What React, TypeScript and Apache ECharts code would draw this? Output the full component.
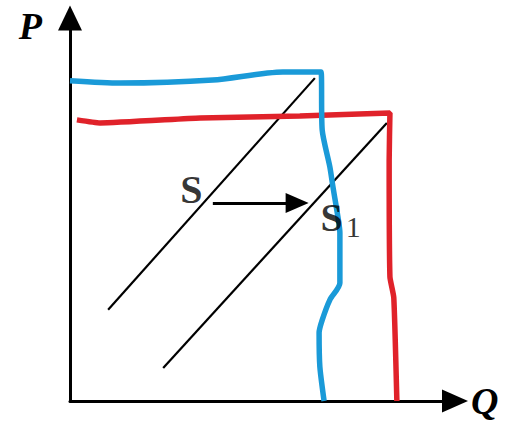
import React, { useEffect, useRef } from "react";
import * as echarts from "echarts";

// Blue curve (Q, P)
const blueCurve: [number, number][] = [
  [0, 83.6], [13.0, 83.0], [37.1, 83.8], [55.3, 85.9], [65.2, 85.9],
  [65.5, 70.8], [67.5, 61.1], [68.3, 55.9], [69.6, 48.0], [70.1, 43.9],
  [70.1, 30.8], [67.5, 26.4], [65.5, 21.1], [64.7, 17.8], [64.9, 8.9], [66.0, 0],
];
// Red curve (Q, P)
const redCurve: [number, number][] = [
  [1.8, 73.4], [7.8, 72.6], [33.8, 73.9], [59.7, 74.4], [83.1, 75.2],
  [82.9, 62.9], [83.1, 32.4], [84.1, 27.0], [84.9, 0],
];
// Supply curves
const supplyS: [number, number][] = [[9.9, 23.8], [63.6, 84.3]];
const supplyS1: [number, number][] = [[24.2, 8.6], [82.3, 72.6]];
// Shift arrow
const shiftArrow: [number, number][] = [[37.1, 51.7], [59.0, 51.7]];
// Curve labels
const labelS: [number, number] = [31.5, 55.3];
const labelS1: [number, number] = [70.3, 48.0];

const serif = "'Liberation Serif', 'DejaVu Serif', serif";

export default function App() {
  const ref = useRef<HTMLDivElement>(null);
  useEffect(() => {
    if (!ref.current) return;
    const chart = echarts.init(ref.current, undefined, { renderer: "svg" });
    chart.setOption({
      animation: false,
      backgroundColor: "#ffffff",
      grid: { left: 70, right: 50, top: 18, bottom: 21 },
      xAxis: {
        type: "value",
        min: 0,
        max: 100,
        name: "Q",
        nameLocation: "end",
        nameGap: 16,
        nameTextStyle: {
          fontFamily: serif,
          fontSize: 38,
          fontWeight: "bold",
          fontStyle: "italic",
          color: "#000",
          verticalAlign: "middle",
          padding: [0, 0, 6, 0],
        },
        axisLine: {
          show: true,
          symbol: ["none", "triangle"],
          symbolSize: [23, 26],
          lineStyle: { color: "#000", width: 3 },
        },
        axisTick: { show: false },
        axisLabel: { show: false },
        splitLine: { show: false },
      },
      yAxis: {
        type: "value",
        min: 0,
        max: 100,
        name: "P",
        nameLocation: "end",
        nameGap: -8,
        nameTextStyle: {
          fontFamily: serif,
          fontSize: 38,
          fontWeight: "bold",
          fontStyle: "italic",
          color: "#000",
          align: "right",
          verticalAlign: "middle",
          padding: [0, 28, 0, 0],
        },
        axisLine: {
          show: true,
          symbol: ["none", "triangle"],
          symbolSize: [24, 25],
          lineStyle: { color: "#000", width: 3 },
        },
        axisTick: { show: false },
        axisLabel: { show: false },
        splitLine: { show: false },
      },
      series: [
        {
          type: "line",
          data: supplyS,
          showSymbol: false,
          lineStyle: { color: "#000", width: 2.2 },
          z: 2,
          markLine: {
            silent: true,
            symbol: ["none", "triangle"],
            symbolSize: [20, 23],
            label: { show: false },
            lineStyle: { color: "#000", width: 3, type: "solid" },
            data: [[{ coord: shiftArrow[0] }, { coord: shiftArrow[1] }]],
          },
        },
        {
          type: "line",
          data: supplyS1,
          showSymbol: false,
          lineStyle: { color: "#000", width: 2.2 },
          z: 2,
        },
        {
          type: "line",
          data: redCurve,
          showSymbol: false,
          smooth: 0.15,
          lineStyle: { color: "#e0222a", width: 5.5 },
          z: 3,
        },
        {
          type: "line",
          data: blueCurve,
          showSymbol: false,
          smooth: 0.25,
          lineStyle: { color: "#1a9ad8", width: 5.5 },
          z: 4,
        },
        {
          type: "scatter",
          symbolSize: 0,
          z: 5,
          data: [
            { value: labelS, label: { formatter: "{s|S}" } },
            { value: labelS1, label: { formatter: "{s|S}{n|1}" } },
          ],
          label: {
            show: true,
            position: "inside",
            color: "#000",
            rich: {
              s: { fontFamily: serif, fontSize: 40, fontWeight: "bold", color: "#000" },
              n: { fontFamily: serif, fontSize: 30, color: "#000", padding: [18, 0, 0, 3] },
            },
          },
        },
      ],
    });
    return () => chart.dispose();
  }, []);
  return (
    <div
      ref={ref}
      style={{ position: "absolute", left: 0, top: 0, width: 505, height: 422 }}
    />
  );
}
